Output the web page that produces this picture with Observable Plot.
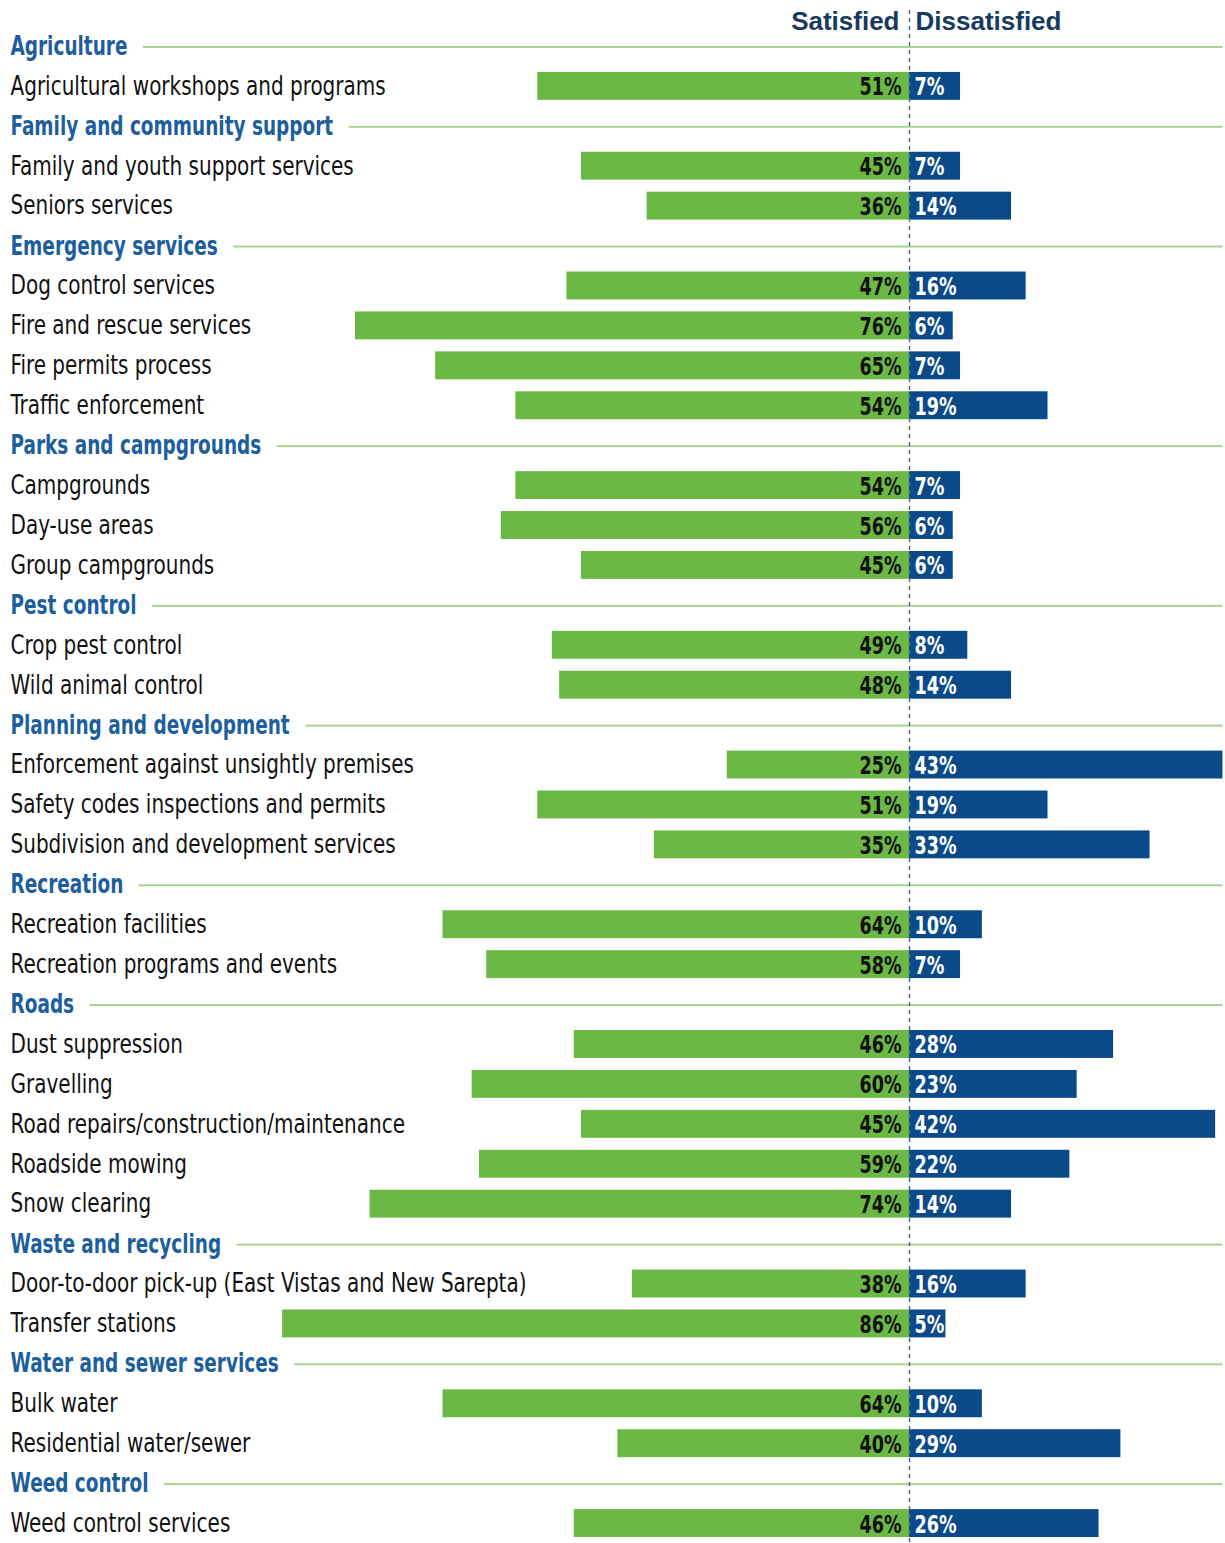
<!DOCTYPE html>
<html>
<head>
<meta charset="utf-8">
<script src="https://cdn.jsdelivr.net/npm/d3@7"></script>
<script src="https://cdn.jsdelivr.net/npm/@observablehq/plot@0.6"></script>
<style>
  body { margin: 0; background: #fff; }
  svg { display: block; }
</style>
</head>
<body>
<div id="chart"></div>
<script>
// Service categories, in display order
const groups = [
  "Agriculture",
  "Family and community support",
  "Emergency services",
  "Parks and campgrounds",
  "Pest control",
  "Planning and development",
  "Recreation",
  "Roads",
  "Waste and recycling",
  "Water and sewer services",
  "Weed control"
];

// Individual services
const services = [
  "Agricultural workshops and programs",
  "Family and youth support services",
  "Seniors services",
  "Dog control services",
  "Fire and rescue services",
  "Fire permits process",
  "Traffic enforcement",
  "Campgrounds",
  "Day-use areas",
  "Group campgrounds",
  "Crop pest control",
  "Wild animal control",
  "Enforcement against unsightly premises",
  "Safety codes inspections and permits",
  "Subdivision and development services",
  "Recreation facilities",
  "Recreation programs and events",
  "Dust suppression",
  "Gravelling",
  "Road repairs/construction/maintenance",
  "Roadside mowing",
  "Snow clearing",
  "Door-to-door pick-up (East Vistas and New Sarepta)",
  "Transfer stations",
  "Bulk water",
  "Residential water/sewer",
  "Weed control services"
];

// Index into `groups` for each service
const serviceGroup = [0, 1, 1, 2, 2, 2, 2, 3, 3, 3, 4, 4, 5, 5, 5, 6, 6, 7, 7, 7, 7, 7, 8, 8, 9, 9, 10];

// Percent satisfied / dissatisfied per service
const satisfied    = [51, 45, 36, 47, 76, 65, 54, 54, 56, 45, 49, 48, 25, 51, 35, 64, 58, 46, 60, 45, 59, 74, 38, 86, 64, 40, 46];
const dissatisfied = [ 7,  7, 14, 16,  6,  7, 19,  7,  6,  6,  8, 14, 43, 19, 33, 10,  7, 28, 23, 42, 22, 14, 16,  5, 10, 29, 26];

// Column headings
const sideLabels = ["Satisfied", "Dissatisfied"];

// ---- build one row per group heading and per service ----
const rows = [];
groups.forEach((g, gi) => {
  rows.push({id: rows.length, kind: "group", label: g});
  services.forEach((s, si) => {
    if (serviceGroup[si] === gi) {
      rows.push({id: rows.length, kind: "service", label: s, sat: satisfied[si], dis: dissatisfied[si]});
    }
  });
});
const groupRows = rows.filter(d => d.kind === "group");
const serviceRows = rows.filter(d => d.kind === "service");

const W = 1225, H = 1543;
const FONT = "'Liberation Sans Narrow', 'Arial Narrow', 'DejaVu Sans Condensed', sans-serif";
const TITLE_FONT = "'Liberation Sans', Arial, sans-serif";
const GREEN = "#6cb845";
const BLUE = "#0b4a88";
const HEAD = "#1d5e9c";
const RULE = "#a9d18e";
const HEAD_SIZE = 27;

// horizontal squeeze applied to each text layer (condensed look)
const squeeze = {head: 0.76, service: 0.855, value: 0.78};

const xDomain = [-124.7, 43.35];
const xPix = d3.scaleLinear().domain(xDomain).range([0, W]);

// Measure heading widths so the divider rule starts just after the text
const ctx = document.createElement("canvas").getContext("2d");
ctx.font = `bold ${HEAD_SIZE}px ${FONT}`;
groupRows.forEach(d => {
  const w = ctx.measureText(d.label).width * squeeze.head;
  d.lineStart = xPix.invert(10 + w + 16);
});
const lineEnd = d3.max(dissatisfied);

const chart = Plot.plot({
  width: W,
  height: H,
  marginTop: 26,
  marginBottom: 0,
  marginLeft: 0,
  marginRight: 0,
  x: {domain: xDomain, axis: null},
  y: {domain: rows.map(d => d.id), axis: null, padding: 0},
  style: {fontFamily: FONT, background: "#fff"},
  marks: [
    // thin green divider after each group heading
    Plot.barX(groupRows, {y: "id", x1: "lineStart", x2: () => lineEnd, fill: RULE, insetTop: 20, insetBottom: 18}),
    // satisfied (left) and dissatisfied (right) bars
    Plot.barX(serviceRows, {y: "id", x1: d => -d.sat, x2: 0, fill: GREEN, insetTop: 6, insetBottom: 6}),
    Plot.barX(serviceRows, {y: "id", x1: 0, x2: "dis", fill: BLUE, insetTop: 6, insetBottom: 6}),
    // dashed zero line
    Plot.ruleX([0], {stroke: "#4d6b8f", strokeWidth: 1.5, strokeDasharray: "4,4", insetTop: -16}),
    // column headings
    Plot.text([sideLabels[0]], {x: 0, frameAnchor: "top", lineAnchor: "middle", dy: -5, text: d => d,
      textAnchor: "end", dx: -10, fontFamily: TITLE_FONT, fontWeight: "bold", fontSize: 26, fill: "#173a5e"}),
    Plot.text([sideLabels[1]], {x: 0, frameAnchor: "top", lineAnchor: "middle", dy: -5, text: d => d,
      textAnchor: "start", dx: 6, fontFamily: TITLE_FONT, fontWeight: "bold", fontSize: 26, fill: "#173a5e"}),
    // group headings
    Plot.text(groupRows, {y: "id", text: "label", frameAnchor: "left", dx: 10, textAnchor: "start",
      fill: HEAD, fontWeight: "bold", fontSize: HEAD_SIZE}),
    // service names
    Plot.text(serviceRows, {y: "id", text: "label", frameAnchor: "left", dx: 10, textAnchor: "start",
      fill: "#111", fontSize: 26}),
    // value labels
    Plot.text(serviceRows, {y: "id", x: 0, text: d => `${d.sat}%`, textAnchor: "end", dx: -8, dy: 1,
      fill: "#111", fontWeight: "bold", fontSize: 25}),
    Plot.text(serviceRows, {y: "id", x: 0, text: d => `${d.dis}%`, textAnchor: "start", dx: 5, dy: 1,
      fill: "#fff", fontWeight: "bold", fontSize: 25})
  ]
});

document.getElementById("chart").appendChild(chart);

// Condense the label layers horizontally
const layerSqueeze = [1, 1, squeeze.head, squeeze.service, squeeze.value, squeeze.value];
chart.querySelectorAll('g[aria-label="text"]').forEach((g, i) => {
  const f = layerSqueeze[i];
  if (!f || f === 1) return;
  g.querySelectorAll("text").forEach(t => {
    const len = t.getComputedTextLength();
    t.setAttribute("textLength", (len * f).toFixed(1));
    t.setAttribute("lengthAdjust", "spacingAndGlyphs");
  });
});
</script>
</body>
</html>
